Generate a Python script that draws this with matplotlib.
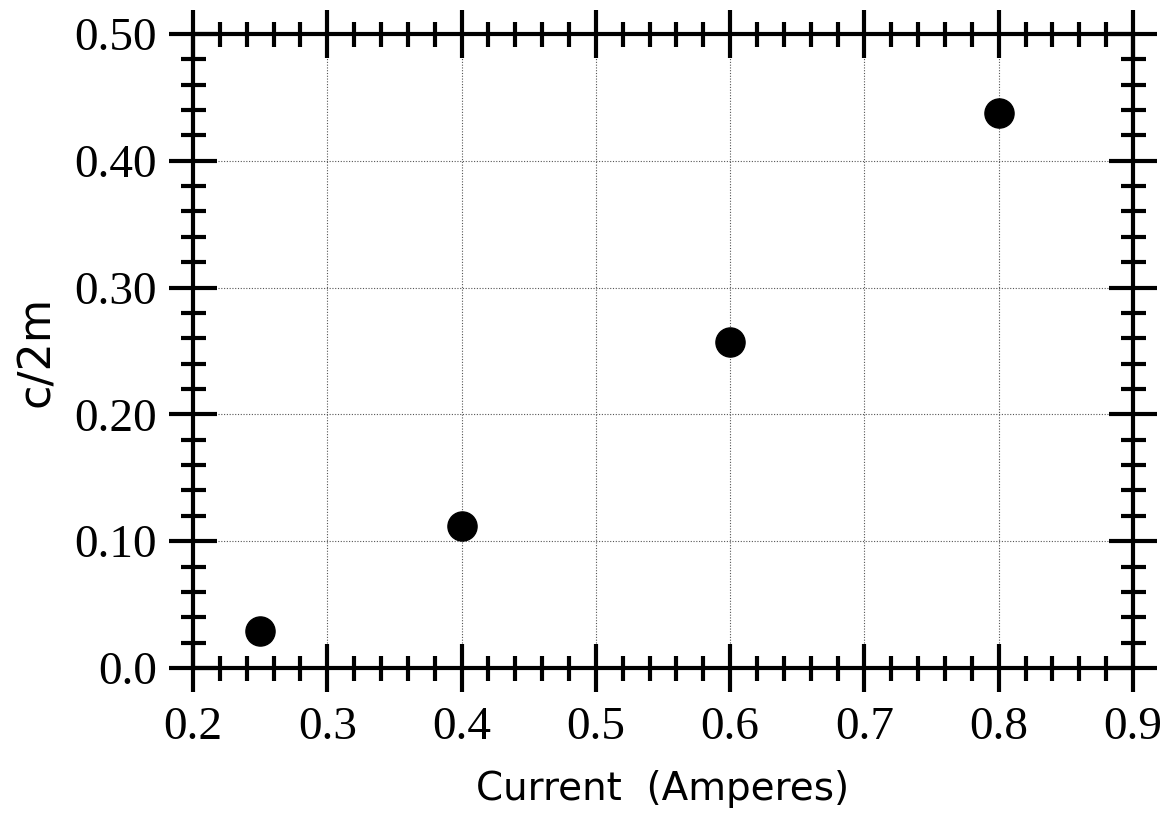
import matplotlib
matplotlib.use("Agg")
import matplotlib.pyplot as plt
from matplotlib.ticker import MultipleLocator

current = [0.25, 0.40, 0.60, 0.80]
c_over_2m = [0.029, 0.112, 0.257, 0.438]

xticks = [0.2, 0.3, 0.4, 0.5, 0.6, 0.7, 0.8, 0.9]
yticks = [0.0, 0.10, 0.20, 0.30, 0.40, 0.50]
ytick_labels = ["0.0", "0.10", "0.20", "0.30", "0.40", "0.50"]

fig = plt.figure(figsize=(11.72, 8.13), dpi=100)
ax = fig.add_axes([0.1647, 0.1784, 0.9667 - 0.1647, 0.9582 - 0.1784])

ax.scatter(current, c_over_2m, s=440, color="black", zorder=5, clip_on=False)

ax.set_xlim(0.2, 0.9)
ax.set_ylim(0.0, 0.5)
ax.set_xticks(xticks)
ax.set_xticklabels([f"{v:.1f}" for v in xticks])
ax.set_yticks(yticks)
ax.set_yticklabels(ytick_labels)
ax.xaxis.set_minor_locator(MultipleLocator(0.02))
ax.yaxis.set_minor_locator(MultipleLocator(0.02))

ax.grid(True, which="major", linestyle=(0, (1, 1.5)), color="#555555", linewidth=0.8)
ax.set_axisbelow(True)

for sp in ax.spines.values():
    sp.set_linewidth(3.0)

ax.tick_params(which="major", direction="inout", length=34, width=3.0,
               top=True, right=True, labelsize=34)
ax.tick_params(axis="x", which="major", pad=11)
ax.tick_params(axis="y", which="major", pad=9)
ax.tick_params(which="minor", direction="inout", length=18, width=3.0,
               top=True, right=True)
for lab in ax.get_xticklabels() + ax.get_yticklabels():
    lab.set_fontfamily("Liberation Serif")

ax.set_xlabel("Current  (Amperes)", fontsize=28, family="DejaVu Sans", labelpad=15)
ax.set_ylabel("c/2m", fontsize=32, family="DejaVu Sans", labelpad=12)

fig.savefig("out.png", dpi=100)
